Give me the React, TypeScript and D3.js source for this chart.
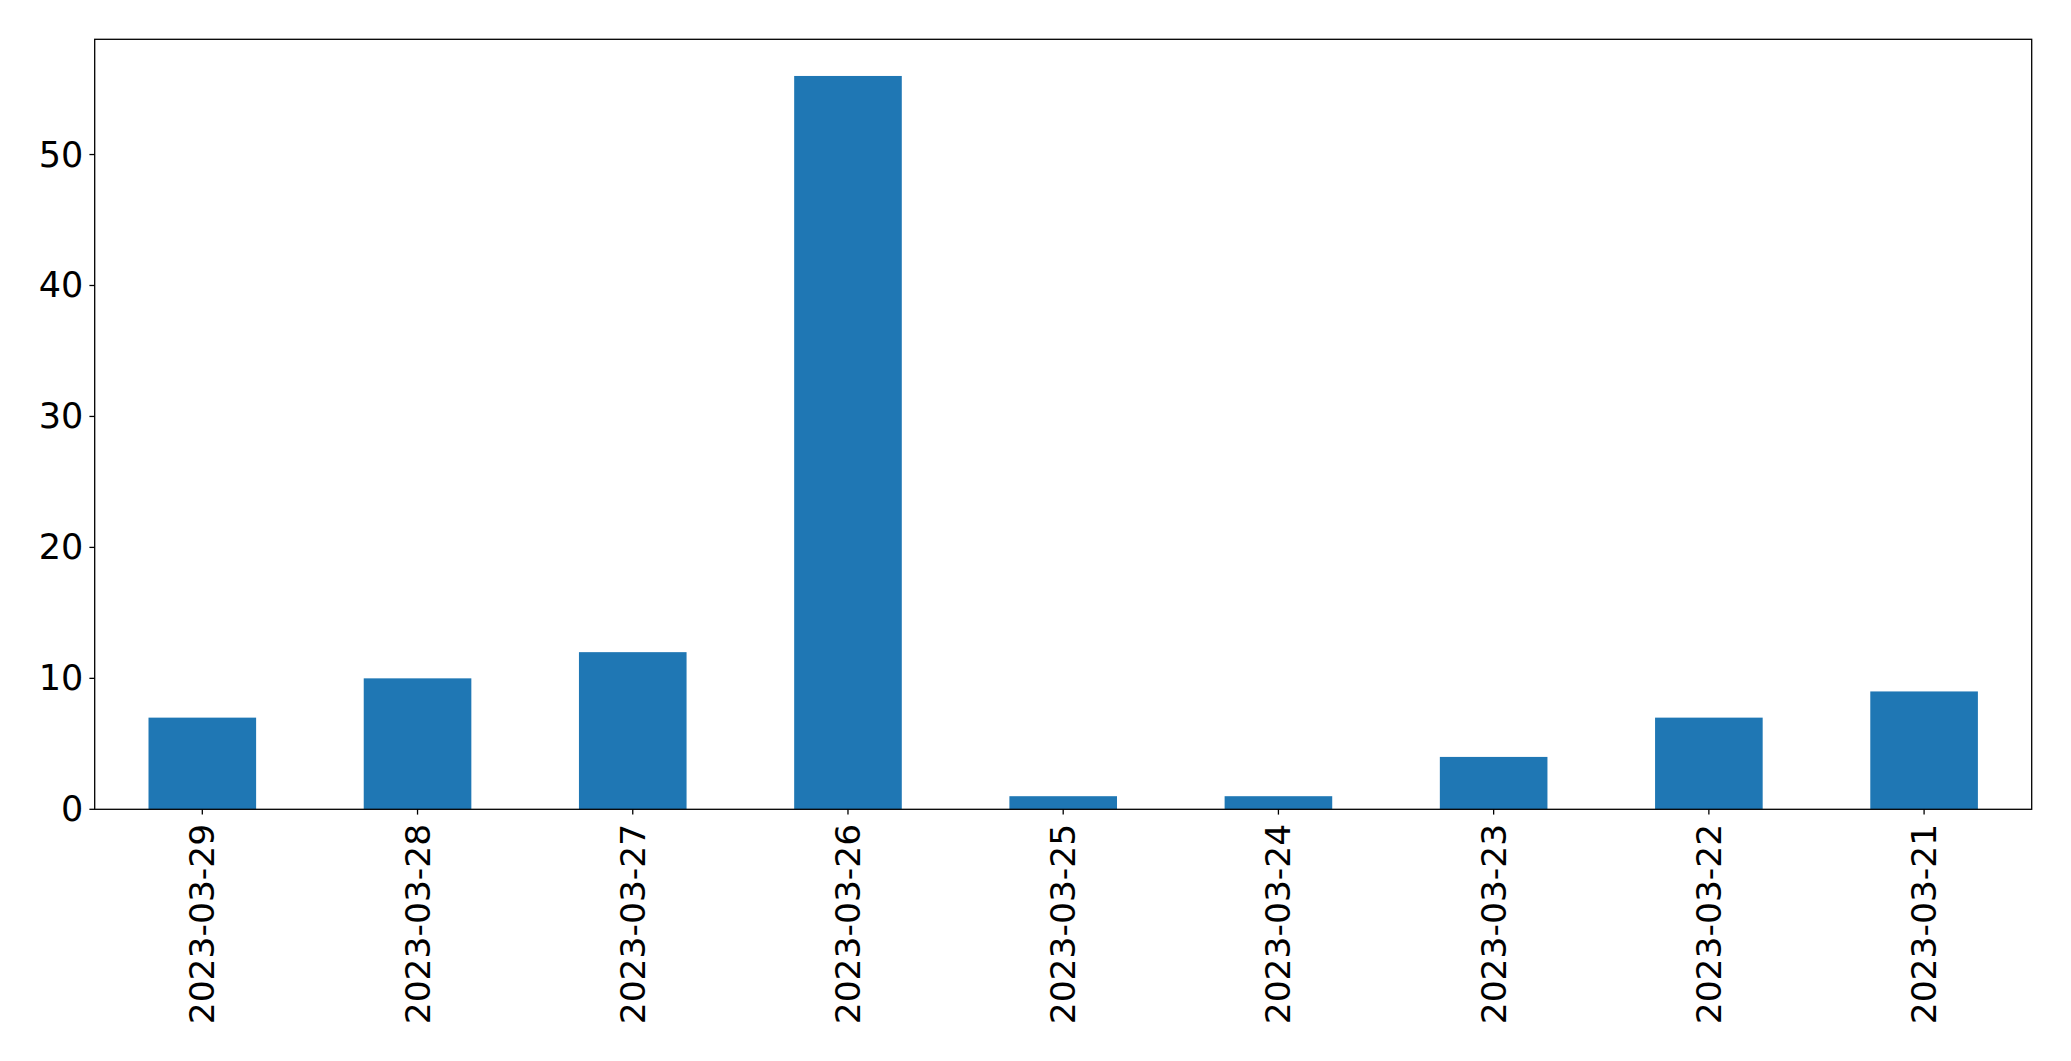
import React from "react";
import * as d3 from "d3";

const categories = [
  "2023-03-29",
  "2023-03-28",
  "2023-03-27",
  "2023-03-26",
  "2023-03-25",
  "2023-03-24",
  "2023-03-23",
  "2023-03-22",
  "2023-03-21",
];
const values = [7, 10, 12, 56, 1, 1, 4, 7, 9];
const yTicks = [0, 10, 20, 30, 40, 50];

const W = 2071;
const H = 1061;
const left = 94.7;
const right = 2031.7;
const top = 39.3;
const bottom = 809.3;
const FONT = "DejaVu Sans, sans-serif";
const FS = 34.5;

export default function App() {
  const x = d3
    .scaleLinear()
    .domain([-0.5, categories.length - 0.5])
    .range([left, right]);
  const yMax = d3.max(values)! * 1.05;
  const y = d3.scaleLinear().domain([0, yMax]).range([bottom, top]);
  const bw = x(0.25) - x(-0.25);

  return (
    <svg
      width={W}
      height={H}
      style={{ position: "absolute", left: 0, top: 0, background: "#fff" }}
    >
      <rect x={0} y={0} width={W} height={H} fill="#fff" />
      {values.map((v, i) => (
        <rect
          key={i}
          x={x(i) - bw / 2}
          y={y(v)}
          width={bw}
          height={y(0) - y(v)}
          fill="#1f77b4"
        />
      ))}
      <rect
        x={left}
        y={top}
        width={right - left}
        height={bottom - top}
        fill="none"
        stroke="#000"
        strokeWidth={1.3}
      />
      {yTicks.map((t) => (
        <g key={t}>
          <line x1={left - 5.3} x2={left} y1={y(t)} y2={y(t)} stroke="#000" strokeWidth={1.3} />
          <text
            x={left - 11.5}
            y={y(t)}
            textAnchor="end"
            dominantBaseline="central"
            fontFamily={FONT}
            fontSize={FS + 0.5}
            fill="#000"
          >
            {t}
          </text>
        </g>
      ))}
      {categories.map((c, i) => (
        <g key={c}>
          <line x1={x(i)} x2={x(i)} y1={bottom} y2={bottom + 5.3} stroke="#000" strokeWidth={1.3} />
          <text
            transform={`translate(${x(i)},${bottom + 14.5}) rotate(-90)`}
            textAnchor="end"
            dominantBaseline="central"
            fontFamily={FONT}
            fontSize={FS}
            fill="#000"
          >
            {c}
          </text>
        </g>
      ))}
    </svg>
  );
}
